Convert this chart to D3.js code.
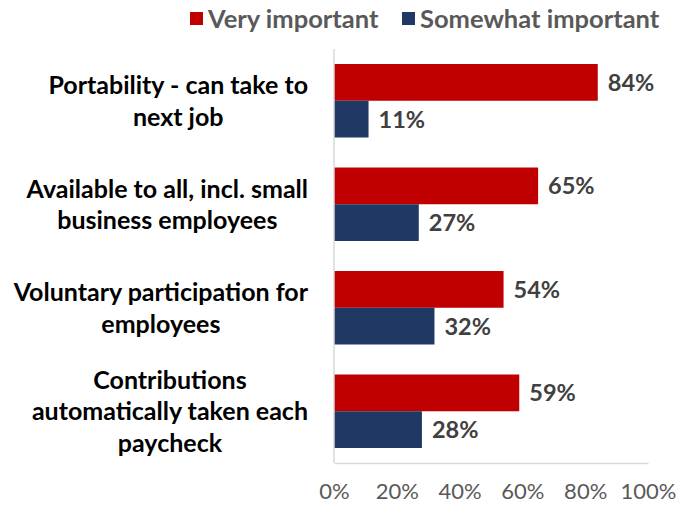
<!DOCTYPE html>
<html>
<head>
<meta charset="utf-8">
<script src="https://cdn.jsdelivr.net/npm/d3@7"></script>
<style>
  body { margin: 0; background: #fff; }
  svg { display: block; }
  text { font-family: Lato, "Liberation Sans", sans-serif; }
</style>
</head>
<body>
<svg id="chart" width="689" height="506"></svg>
<script>
// Categories (line breaks mark label wrapping)
const categories = [
  "Portability - can take to\nnext job",
  "Available to all, incl. small\nbusiness employees",
  "Voluntary participation for\nemployees",
  "Contributions\nautomatically taken each\npaycheck"
];
const seriesNames = ["Very important", "Somewhat important"];
const veryImportant = [84, 65, 54, 59];
const somewhatImportant = [11, 27, 32, 28];
const tickValues = [0, 20, 40, 60, 80, 100];
const seriesColors = ["#C00000", "#1F3864"];

const svg = d3.select("#chart");
const plot = { left: 334, right: 648, top: 49, bottom: 463 };

const rows = categories.map((c, i) => ({
  cat: c,
  values: [veryImportant[i], somewhatImportant[i]]
}));

const x = d3.scaleLinear().domain([0, 100]).range([plot.left, plot.right]);
const y0 = d3.scaleBand().domain(categories).range([plot.top, plot.bottom])
  .paddingInner(0.29).paddingOuter(0.145);
const y1 = d3.scaleBand().domain(seriesNames).range([0, y0.bandwidth()]);

// Bars
const groups = svg.append("g").selectAll("g").data(rows).join("g")
  .attr("transform", d => `translate(0,${y0(d.cat)})`);

groups.selectAll("rect")
  .data(d => d.values.map((v, j) => ({ v, s: seriesNames[j], j })))
  .join("rect")
  .attr("x", x(0))
  .attr("y", d => y1(d.s))
  .attr("width", d => x(d.v) - x(0))
  .attr("height", y1.bandwidth())
  .attr("fill", d => seriesColors[d.j]);

// Value labels
groups.selectAll("text.val")
  .data(d => d.values.map((v, j) => ({ v, s: seriesNames[j], j })))
  .join("text")
  .attr("class", "val")
  .attr("x", d => x(d.v) + 10)
  .attr("y", d => y1(d.s) + y1.bandwidth() / 2)
  .attr("dy", "0.36em")
  .attr("font-size", 23.5)
  .attr("font-weight", 700)
  .attr("fill", "#404040")
  .text(d => d.v + "%");

// Vertical axis line
svg.append("line")
  .attr("x1", plot.left).attr("x2", plot.left)
  .attr("y1", plot.top).attr("y2", plot.bottom)
  .attr("stroke", "#d9d9d9").attr("stroke-width", 1.5);

// Bottom axis
const xAxis = d3.axisBottom(x).tickValues(tickValues).tickFormat(d => d + "%").tickSize(0).tickPadding(20);
const gx = svg.append("g").attr("transform", `translate(0,${plot.bottom})`).call(xAxis);
gx.select(".domain").attr("stroke", "#d9d9d9").attr("stroke-width", 1.5);
gx.selectAll("text")
  .attr("font-family", "Lato, sans-serif")
  .attr("font-size", 22)
  .attr("fill", "#595959");

// Category labels: lines centred within a block right-aligned to the axis
const labelRight = 308;
const lineH = 31.5;
rows.forEach(d => {
  const lines = d.cat.split("\n");
  const cy = y0(d.cat) + y0.bandwidth() / 2;
  const g = svg.append("g");
  const t = g.selectAll("text").data(lines).join("text")
    .attr("y", (l, k) => cy + (k - (lines.length - 1) / 2) * lineH)
    .attr("dy", "0.36em")
    .attr("font-size", 25)
    .attr("font-weight", 700)
    .attr("fill", "#000")
    .attr("text-anchor", "middle")
    .text(l => l);
  const widest = d3.max(t.nodes(), n => n.getComputedTextLength());
  t.attr("x", labelRight - widest / 2);
});

// Legend
const legendItems = [
  { name: seriesNames[0], color: seriesColors[0], x: 190 },
  { name: seriesNames[1], color: seriesColors[1], x: 402 }
];
const lg = svg.append("g").selectAll("g").data(legendItems).join("g")
  .attr("transform", d => `translate(${d.x},12)`);
lg.append("rect").attr("width", 13).attr("height", 13).attr("fill", d => d.color);
lg.append("text")
  .attr("x", 18).attr("y", 6.5).attr("dy", "0.36em")
  .attr("font-size", 25.5).attr("font-weight", 700)
  .attr("fill", "#595959")
  .text(d => d.name);
</script>
</body>
</html>
